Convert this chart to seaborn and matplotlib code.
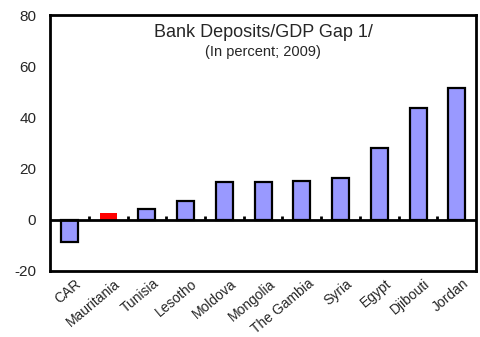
import matplotlib
matplotlib.use("Agg")
import matplotlib.pyplot as plt
import matplotlib.transforms as mtransforms
import seaborn as sns
import pandas as pd

countries = ["CAR", "Mauritania", "Tunisia", "Lesotho", "Moldova", "Mongolia",
             "The Gambia", "Syria", "Egypt", "Djibouti", "Jordan"]
gap = [-8.8, 2.8, 4.3, 7.3, 14.7, 14.7, 15.3, 16.2, 28.2, 43.6, 51.5]
highlight = "Mauritania"

sns.set_style("white")
plt.rcParams["font.family"] = ["Liberation Sans", "DejaVu Sans"]
plt.rcParams["axes.unicode_minus"] = False

df = pd.DataFrame({"country": countries, "gap": gap})
df["group"] = ["hi" if c == highlight else "base" for c in countries]

fig = plt.figure(figsize=(4.81, 3.37), dpi=100)
ax = fig.add_axes([0.104, 0.196, 0.886, 0.759])

sns.barplot(data=df, x="country", y="gap", hue="group",
            palette={"base": "#9999FF", "hi": "#FF0000"}, saturation=1,
            width=0.44, dodge=False, legend=False, ax=ax)

# outlined bars, highlighted bar without outline
for bar in ax.patches:
    r, g, b, _ = bar.get_facecolor()
    if r > 0.9 and g < 0.1:
        bar.set_edgecolor("none")
        bar.set_linewidth(0)
    else:
        bar.set_edgecolor("black")
        bar.set_linewidth(1.6)

ax.set_ylim(-20, 80)
ax.set_xlim(-0.5, len(countries) - 0.5)
ax.set_yticks([-20, 0, 20, 40, 60, 80])
ax.tick_params(axis="y", direction="in", length=4, width=1.5, labelsize=11, pad=10)
ax.tick_params(axis="x", length=0, labelsize=10, pad=4)
ax.set_xticks(range(len(countries)))
ax.set_xticklabels(countries, rotation=40, ha="right", rotation_mode="anchor")
shift = mtransforms.ScaledTranslation(4 / 72, 0, fig.dpi_scale_trans)
for lbl in ax.get_xticklabels():
    lbl.set_transform(lbl.get_transform() + shift)
ax.set_xlabel("")
ax.set_ylabel("")

for s in ax.spines.values():
    s.set_visible(True)
    s.set_linewidth(2)
    s.set_color("black")

# zero line with small category separators
ax.axhline(0, color="black", linewidth=2, zorder=3)
ax.vlines([i + 0.5 for i in range(len(countries) - 1)], 0, 1.6,
          color="black", linewidth=2, zorder=3)

ax.text(0.5, 0.965, "Bank Deposits/GDP Gap 1/", transform=ax.transAxes,
        ha="center", va="top", fontsize=13)
ax.text(0.5, 0.885, "(In percent; 2009)", transform=ax.transAxes,
        ha="center", va="top", fontsize=10.5)

fig.savefig("out.png", dpi=100)
